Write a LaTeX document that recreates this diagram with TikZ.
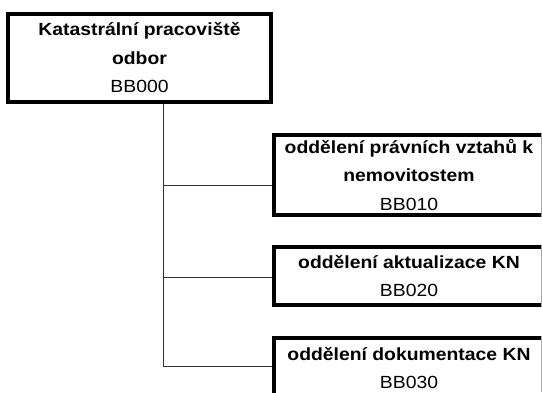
\documentclass[tikz,border=0pt]{standalone}
\usepackage{fontspec}
\setmainfont{Liberation Sans}[FakeStretch=1.1]
\begin{document}
\begin{tikzpicture}[x=1pt,y=-1pt,
  box/.style={draw=black,line width=4.5pt,fill=white,rectangle,inner sep=0pt,align=center,
    font=\fontsize{17.6}{28.5}\selectfont},
  conn/.style={draw=black!80,line width=1pt}]
\useasboundingbox (0,0) rectangle (542,392);
% connectors
\coordinate (j1) at (163,185);
\coordinate (j2) at (163,277);
\coordinate (j3) at (163,366);
\node[box,minimum width=263pt,minimum height=88pt] (top) at (139.5,58)
  {\textbf{Katastrální pracoviště}\\\textbf{odbor}\\BB000};
\node[box,minimum width=270pt,minimum height=80pt] (c1) at (409,175)
  {\textbf{oddělení právních vztahů k}\\\textbf{nemovitostem}\\BB010};
\node[box,minimum width=270pt,minimum height=58pt] (c2) at (409,276)
  {\textbf{oddělení aktualizace KN}\\BB020};
\node[box,minimum width=270pt,minimum height=60pt] (c3) at (409,368)
  {\textbf{oddělení dokumentace KN}\\BB030};
\draw[conn] (top.south -| j1) -- (j3);
\draw[conn] (j1) -- (j1 -| c1.west);
\draw[conn] (j2) -- (j2 -| c2.west);
\draw[conn] (j3) -- (j3 -| c3.west);
\coordinate (r1) at (541,0);
\coordinate (r2) at (541,392);
\draw[draw=black!35,line width=1pt] (r1 |- c1.north) -- (r1 |- c1.south);
\draw[draw=black!35,line width=1pt] (r1 |- c2.north) -- (r1 |- c2.south);
\draw[draw=black!35,line width=1pt] (r1 |- c3.north) -- (r2);
\end{tikzpicture}
\end{document}
